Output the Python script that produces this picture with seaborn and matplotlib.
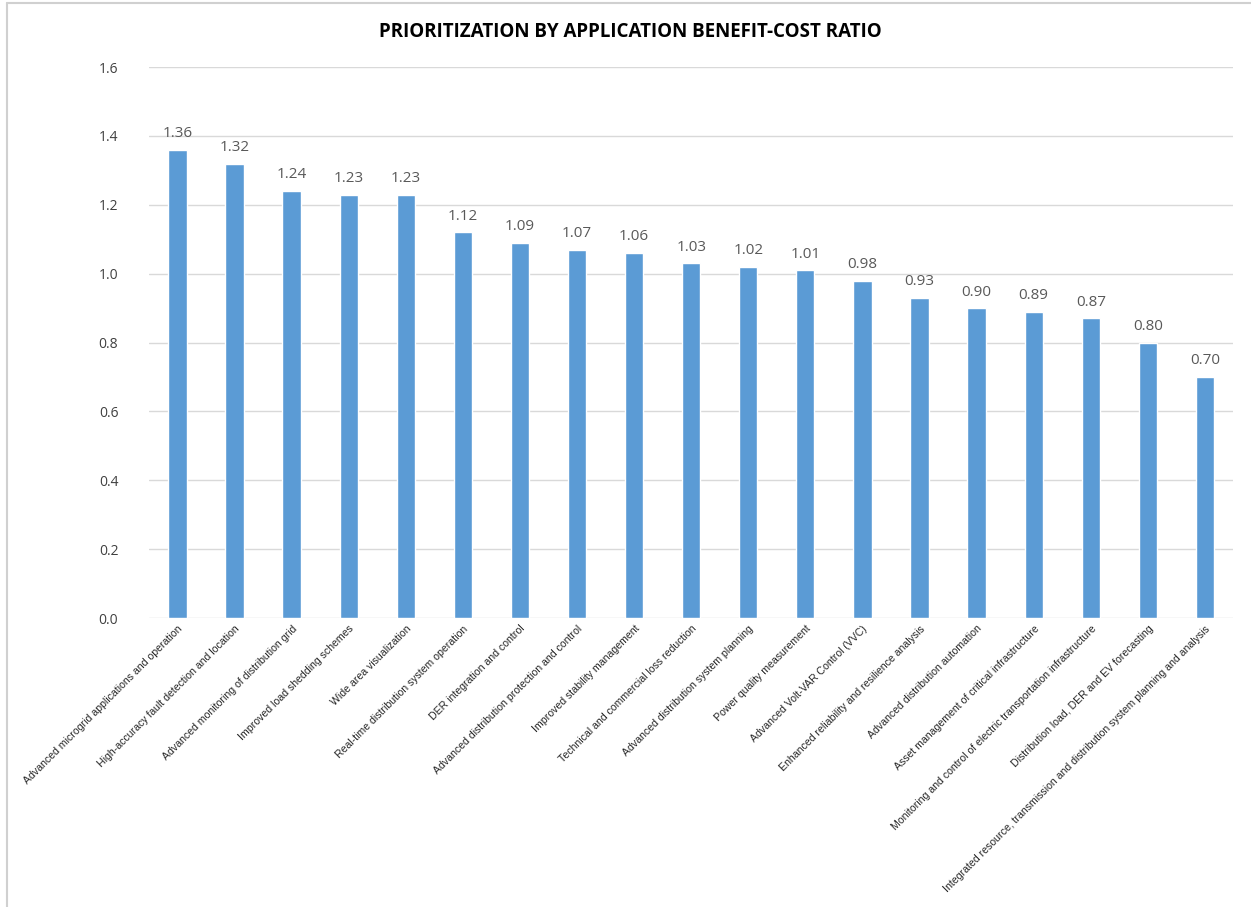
import matplotlib
matplotlib.use("Agg")
import matplotlib.pyplot as plt
from matplotlib.lines import Line2D
import seaborn as sns
import pandas as pd

categories = [
    "Advanced microgrid applications and operation",
    "High-accuracy fault detection and location",
    "Advanced monitoring of distribution grid",
    "Improved load shedding schemes",
    "Wide area visualization",
    "Real-time distribution system operation",
    "DER integration and control",
    "Advanced distribution protection and control",
    "Improved stability management",
    "Technical and commercial loss reduction",
    "Advanced distribution system planning",
    "Power quality measurement",
    "Advanced Volt-VAR Control (VVC)",
    "Enhanced reliability and resilience analysis",
    "Advanced distribution automation",
    "Asset management of critical infrastructure",
    "Monitoring and control of electric transportation infrastructure",
    "Distribution load, DER and EV forecasting",
    "Integrated resource, transmission and distribution system planning and analysis",
]
values = [1.36, 1.32, 1.24, 1.23, 1.23, 1.12, 1.09, 1.07, 1.06, 1.03,
          1.02, 1.01, 0.98, 0.93, 0.90, 0.89, 0.87, 0.80, 0.70]
yticks = [0.0, 0.2, 0.4, 0.6, 0.8, 1.0, 1.2, 1.4, 1.6]
title = "PRIORITIZATION BY APPLICATION BENEFIT-COST RATIO"

df = pd.DataFrame({"app": categories, "bcr": values})

sns.set_theme(style="white")
plt.rcParams["font.family"] = ["Open Sans", "DejaVu Sans"]

fig = plt.figure(figsize=(12.51, 9.07), dpi=100)
ax = fig.add_axes([0.119, 0.3186, 0.867, 0.6074])

sns.barplot(data=df, x="app", y="bcr", color="#5B9BD5", saturation=1,
            width=0.32, ax=ax, zorder=3)

ax.set_ylim(0, 1.6)
ax.set_xlim(-0.5, len(categories) - 0.5)
ax.set_yticks(yticks)
ax.set_yticklabels([f"{t:.1f}" for t in yticks], fontsize=10, color="#404040")
ax.yaxis.grid(True, color="#D9D9D9", linewidth=1.0, zorder=0)
ax.set_axisbelow(True)
for s in ax.spines.values():
    s.set_visible(False)
ax.tick_params(axis="y", length=0, pad=22)
ax.tick_params(axis="x", length=0, pad=4)
ax.set_xlabel("")
ax.set_ylabel("")
ax.set_xticks(range(len(categories)))
ax.set_xticklabels(categories, rotation=45, ha="right", rotation_mode="anchor",
                   fontsize=7.6, color="#262626", family=["Liberation Sans", "DejaVu Sans"])

for i, v in enumerate(values):
    ax.text(i, v + 0.025, f"{v:.2f}", ha="center", va="bottom",
            fontsize=11, color="#595959")

fig.text(0.504, 0.965, title, ha="center", va="center", fontsize=13.5,
         fontweight="bold", color="#000000")

fig.add_artist(Line2D([7/1251, 7/1251], [0, 1 - 3/907], color="#D0D0D0", linewidth=1.5,
                      transform=fig.transFigure))
fig.add_artist(Line2D([7/1251, 1], [1 - 3/907, 1 - 3/907], color="#D0D0D0", linewidth=1.5,
                      transform=fig.transFigure))

fig.savefig("out.png", dpi=100, facecolor="white")
